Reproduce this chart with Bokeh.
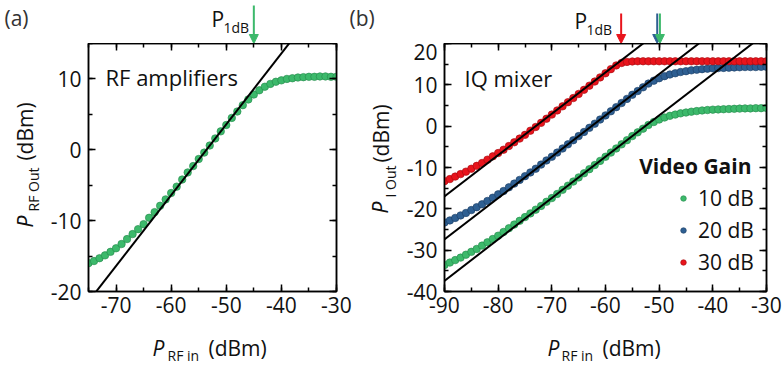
import math
from bokeh.plotting import figure
from bokeh.models import (Label, Arrow, NormalHead, LinearAxis, SingleIntervalTicker,
                          CustomJSTickFormatter, Range1d, Legend, LegendItem)
from bokeh.core.properties import value
from bokeh.layouts import row, column
from bokeh.embed import file_html
from bokeh.resources import INLINE

FONT = "Open Sans"
TXT = "#111111"
GREEN, GREEN_D = "#3cb96b", "#23884a"
BLUE, BLUE_D = "#2e5f92", "#1b3d63"
RED, RED_D = "#e8141c", "#a30b10"

# ---------------- data: (a) RF amplifiers ----------------
amp_x = list(range(-75, -29))
amp_y = [-16.0, -15.7, -15.3, -14.9, -14.4, -13.9, -13.3, -12.6, -11.9, -11.2,
         -10.5, -9.6, -8.8, -7.9, -7.0, -6.1, -5.2, -4.2, -3.2, -2.3,
         -1.3, -0.4, 0.6, 1.6, 2.6, 3.5, 4.5, 5.4, 6.3, 7.1,
         7.8, 8.4, 8.9, 9.3, 9.6, 9.8, 10.0, 10.1, 10.2, 10.25,
         10.3, 10.3, 10.35, 10.35, 10.3, 10.3]
amp_gain = 53.6
amp_p1db = -45.0

# ---------------- data: (b) IQ mixer ----------------
mix_x = list(range(-90, -29))
mix_y_10 = [-33.6, -33.0, -32.4, -31.8, -31.1, -30.4, -29.7, -28.9, -28.1, -27.3,
            -26.5, -25.6, -24.7, -23.8, -22.9, -22.0, -21.1, -20.2, -19.3, -18.3,
            -17.4, -16.4, -15.4, -14.4, -13.4, -12.4, -11.4, -10.4, -9.4, -8.4,
            -7.4, -6.4, -5.4, -4.4, -3.4, -2.4, -1.5, -0.6, 0.3, 1.0,
            1.6, 2.1, 2.5, 2.8, 3.1, 3.3, 3.5, 3.65, 3.8, 3.9,
            4.0, 4.05, 4.1, 4.15, 4.2, 4.25, 4.3, 4.3, 4.35, 4.35, 4.4]
mix_y_20 = [-23.3, -22.8, -22.2, -21.6, -21.0, -20.3, -19.6, -18.9, -18.1, -17.3,
            -16.5, -15.7, -14.8, -13.9, -13.0, -12.1, -11.2, -10.3, -9.3, -8.3,
            -7.4, -6.4, -5.4, -4.4, -3.4, -2.4, -1.4, -0.4, 0.6, 1.6,
            2.6, 3.6, 4.6, 5.6, 6.6, 7.6, 8.5, 9.4, 10.3, 11.0,
            11.6, 12.1, 12.5, 12.8, 13.1, 13.3, 13.5, 13.65, 13.8, 13.9,
            14.0, 14.05, 14.1, 14.15, 14.2, 14.25, 14.3, 14.3, 14.3, 14.35, 14.35]
mix_y_30 = [-13.3, -12.8, -12.2, -11.6, -11.0, -10.3, -9.6, -8.9, -8.1, -7.3,
            -6.5, -5.7, -4.8, -3.9, -3.0, -2.1, -1.1, -0.2, 0.8, 1.8,
            2.8, 3.8, 4.8, 5.8, 6.8, 7.8, 8.8, 9.8, 10.8, 11.8,
            12.8, 13.8, 14.7, 15.3, 15.55, 15.65, 15.7, 15.7, 15.7, 15.7,
            15.7, 15.7, 15.7, 15.7, 15.7, 15.7, 15.7, 15.7, 15.7, 15.7,
            15.7, 15.7, 15.7, 15.7, 15.7, 15.7, 15.7, 15.7, 15.7, 15.7, 15.7]
mix_labels = ["10 dB", "20 dB", "30 dB"]
mix_gains = [52.6, 62.6, 73.0]
mix_p1db = [-49.8, -50.3, -57.0]

A_XR, A_YR = (-75, -30), (-20, 15)
B_XR, B_YR = (-90, -30), (-40, 20)

# ---------------- layout geometry (canvas pixels) ----------------
TOP_H = 43          # strip above the frames
MID_H = 287         # frames + tick labels
BOT_H = 35          # x-axis titles
FRAME_H = 248
BORDER_B = MID_H - FRAME_H
A_FL, A_FR = 88, 336      # frame a left/right
B_FL, B_FR = 443, 766     # frame b left/right
SPLIT_TOP = 380
YLAB_A_W = 45
SPLIT_MID = 354
YLAB_B_W = 49
R = math.pi / 2


def style_axis(ax, show_labels, standoff):
    ax.ticker = SingleIntervalTicker(interval=10, num_minor_ticks=2)
    ax.axis_line_width = 1.5
    ax.axis_line_color = "black"
    ax.major_tick_in = 7
    ax.major_tick_out = 0
    ax.minor_tick_in = 4
    ax.minor_tick_out = 0
    ax.major_tick_line_width = 1.5
    ax.minor_tick_line_width = 1.5
    ax.major_tick_line_color = "black"
    ax.minor_tick_line_color = "black"
    ax.axis_label = None
    ax.major_label_standoff = standoff
    if show_labels:
        ax.formatter = CustomJSTickFormatter(code="return tick.toString()")
        ax.major_label_text_font = FONT
        ax.major_label_text_font_size = "21px"
        ax.major_label_text_color = TXT
    else:
        ax.formatter = CustomJSTickFormatter(code="return ''")
        ax.major_label_text_font_size = "1px"


def blank_fig(width, height, xr=(0, 1), yr=(0, 1), bottom=0):
    p = figure(width=width, height=height, x_range=Range1d(*xr), y_range=Range1d(*yr),
               output_backend="svg", toolbar_location=None,
               x_axis_location=None, y_axis_location=None, min_border=0)
    p.min_border_left = p.min_border_right = p.min_border_top = 0
    p.min_border_bottom = bottom
    p.xgrid.visible = False
    p.ygrid.visible = False
    p.outline_line_color = None
    p.background_fill_color = "white"
    p.border_fill_color = "white"
    return p


def main_fig(width, xr, yr, left, right):
    p = figure(width=width, height=MID_H, x_range=Range1d(*xr), y_range=Range1d(*yr),
               output_backend="svg", toolbar_location=None,
               min_border_left=left, min_border_right=right,
               min_border_top=0, min_border_bottom=BORDER_B)
    p.xgrid.visible = False
    p.ygrid.visible = False
    p.outline_line_color = "black"
    p.outline_line_width = 1.5
    p.background_fill_color = "white"
    p.border_fill_color = "white"
    style_axis(p.below[0], True, 5)
    style_axis(p.left[0], True, 7)
    top = LinearAxis()
    rgt = LinearAxis()
    style_axis(top, False, 0)
    style_axis(rgt, False, 0)
    p.add_layout(top, "above")
    p.add_layout(rgt, "right")
    return p


def txt(p, fx, fy, fh, X, Y, text, size=21, style="normal", align="left", color=TXT):
    """Horizontal text. X: left/right edge, Y: baseline (canvas px).
    fx, fy, fh: canvas position of this figure's frame (left, top, height)."""
    cy = Y - 0.35 * size
    p.add_layout(Label(x=X - fx, y=(fy + fh) - cy, x_units="screen", y_units="screen",
                       text=text, text_font=FONT, text_font_size=f"{size}px",
                       text_font_style=style, text_color=color,
                       text_align=align, text_baseline="middle"))


def ylab_fig(canvas_left, width):
    # strip whose frame lines up with the panel frames (canvas y 43..291);
    # data coordinates: x = canvas x, y = (row bottom) - canvas y
    return blank_fig(width, MID_H, (canvas_left, canvas_left + width),
                     (BORDER_B, MID_H), bottom=BORDER_B)


def vtxt(p, BX, CY, text, size=21, style="normal"):
    """Rotated (bottom-to-top) text centred at canvas y CY; BX = baseline x (canvas px)."""
    p.text(x=[BX - 0.35 * size], y=[(TOP_H + MID_H) - CY], text=[text], angle=R,
           text_align="center", text_baseline="middle",
           text_font=value(FONT), text_font_size=value(f"{size}px"),
           text_font_style=style, text_color=TXT)


def arrow(p, x, y0, y1, color):
    p.add_layout(Arrow(end=NormalHead(size=9, fill_color=color, line_color=color, line_width=1),
                       x_start=x, y_start=y0, x_end=x, y_end=y1,
                       line_color=color, line_width=2))


# ---------------- top strips (P1dB markers) ----------------
ka = (A_XR[1] - A_XR[0]) / (A_FR - A_FL)
kb = (B_XR[1] - B_XR[0]) / (B_FR - B_FL)
ta_xr = (A_XR[0] - A_FL * ka, A_XR[0] + (SPLIT_TOP - A_FL) * ka)
tb_xr = (B_XR[0] - (B_FL - SPLIT_TOP) * kb, B_XR[0] + (783 - B_FL) * kb)
top_a = blank_fig(SPLIT_TOP, TOP_H, ta_xr, (0, TOP_H))
top_b = blank_fig(783 - SPLIT_TOP, TOP_H, tb_xr, (0, TOP_H))

arrow(top_a, amp_p1db, TOP_H - 5, 0, GREEN)
arrow(top_b, mix_p1db[2], TOP_H - 13, 0, RED)
arrow(top_b, mix_p1db[1], TOP_H - 13, 0, BLUE)
arrow(top_b, mix_p1db[0], TOP_H - 13, 0, GREEN)

txt(top_a, 0, 0, TOP_H, 4, 25, "(a)", color="#333333")
txt(top_a, 0, 0, TOP_H, 349, 25, "(b)", color="#333333")
txt(top_a, 0, 0, TOP_H, 211, 26, "P")
txt(top_a, 0, 0, TOP_H, 223, 32, "1dB", size=14)
txt(top_b, SPLIT_TOP, 0, TOP_H, 574, 28, "P")
txt(top_b, SPLIT_TOP, 0, TOP_H, 586, 34, "1dB", size=14)

# ---------------- y-axis title strips ----------------
ylab_a = ylab_fig(0, YLAB_A_W)
vtxt(ylab_a, 32, 221, "P", style="italic")
vtxt(ylab_a, 38, 189, "RF Out", size=14)
vtxt(ylab_a, 32, 131, "(dBm)")

ylab_b = ylab_fig(SPLIT_MID, YLAB_B_W)
vtxt(ylab_b, 387, 207, "P", style="italic")
vtxt(ylab_b, 395, 181, "I Out", size=14)
vtxt(ylab_b, 388, 133, "(dBm)")

# ---------------- panel (a) ----------------
pa = main_fig(SPLIT_MID - YLAB_A_W, A_XR, A_YR, A_FL - YLAB_A_W, SPLIT_MID - A_FR)
pa.scatter(amp_x, amp_y, size=7.5, fill_color=GREEN, line_color=GREEN_D, line_width=0.6)
lx = [A_XR[0] - 5, A_XR[1] + 5]
pa.line(lx, [v + amp_gain for v in lx], line_color="black", line_width=2)
txt(pa, A_FL, TOP_H, FRAME_H, 105, 84, "RF amplifiers", size=22)

# ---------------- panel (b) ----------------
b_left = SPLIT_MID + YLAB_B_W
pb = main_fig(783 - b_left, B_XR, B_YR, B_FL - b_left, 783 - B_FR)
cols = [(GREEN, GREEN_D), (BLUE, BLUE_D), (RED, RED_D)]
series = [mix_y_10, mix_y_20, mix_y_30]
rends = []
for (fc, lc), ys in zip(cols, series):
    rends.append(pb.scatter(mix_x, ys, size=7.5, fill_color=fc, line_color=lc, line_width=0.6))
lx = [B_XR[0] - 5, B_XR[1] + 5]
for g in mix_gains:
    pb.line(lx, [v + g for v in lx], line_color="black", line_width=2)

legend = Legend(items=[LegendItem(label=l, renderers=[r]) for l, r in zip(mix_labels, rends)],
                location=(675 - B_FL, 15), orientation="vertical",
                padding=0, margin=0, spacing=4, glyph_width=14, glyph_height=28,
                label_height=28, label_standoff=8,
                label_text_font=FONT, label_text_font_size="21px", label_text_color=TXT,
                border_line_color=None, background_fill_alpha=0)
pb.add_layout(legend, "center")

txt(pb, B_FL, TOP_H, FRAME_H, 463, 85, "IQ mixer", size=22)
txt(pb, B_FL, TOP_H, FRAME_H, 750, 173, "Video Gain", style="bold", align="right")

# ---------------- x-axis title strips ----------------
xlab_a = blank_fig(370, BOT_H)
y0 = TOP_H + MID_H
txt(xlab_a, 0, y0, BOT_H, 152, 355, "P", style="italic")
txt(xlab_a, 0, y0, BOT_H, 167, 360, "RF in", size=14)
txt(xlab_a, 0, y0, BOT_H, 208, 355, "(dBm)")
xlab_b = blank_fig(783 - 370, BOT_H)
txt(xlab_b, 370, y0, BOT_H, 547, 355, "P", style="italic")
txt(xlab_b, 370, y0, BOT_H, 561, 360, "RF in", size=14)
txt(xlab_b, 370, y0, BOT_H, 602, 355, "(dBm)")

layout = column(row(top_a, top_b), row(ylab_a, pa, ylab_b, pb), row(xlab_a, xlab_b))
open("out.html", "w").write(file_html(layout, INLINE))
